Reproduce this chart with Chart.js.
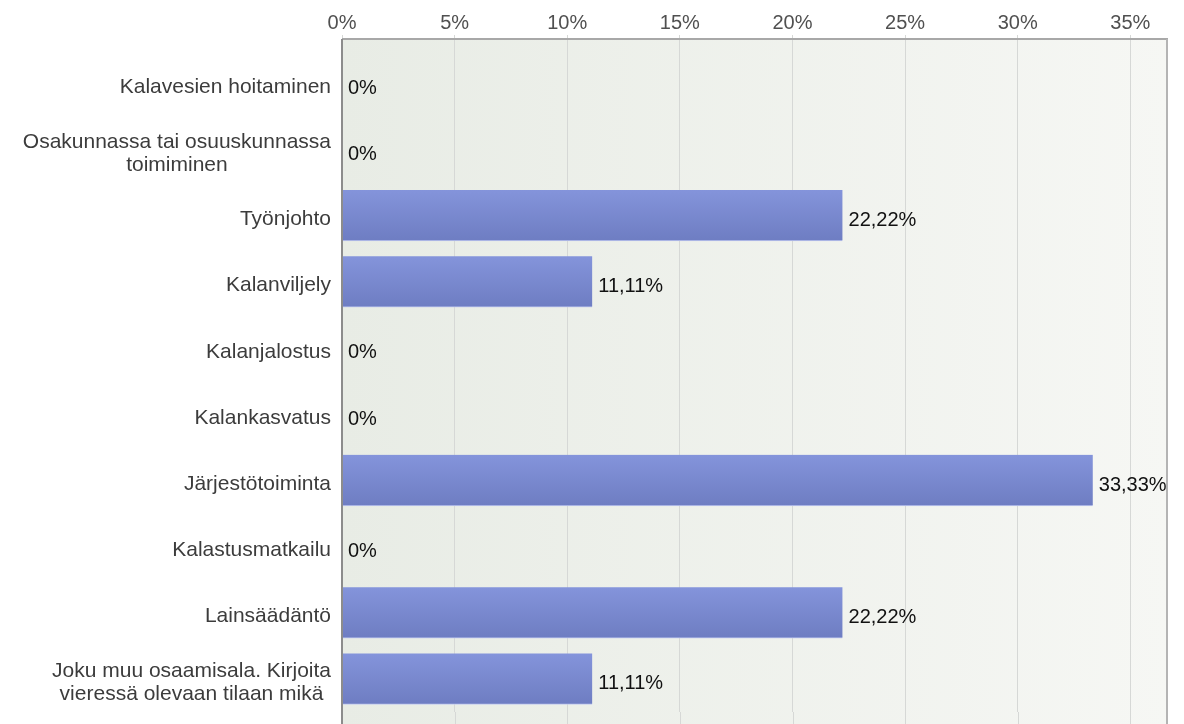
<!DOCTYPE html>
<html>
<head>
<meta charset="utf-8">
<script src="https://cdn.jsdelivr.net/npm/chart.js@4"></script>
<style>
  html, body { margin: 0; padding: 0; background: #ffffff; }
  canvas { display: block; }
</style>
</head>
<body>
<canvas id="myChart" width="1184" height="724"></canvas>
<script>
// chart data
var categories = [
  'Kalavesien hoitaminen',
  ['Osakunnassa tai osuuskunnassa', 'toimiminen'],
  'Työnjohto',
  'Kalanviljely',
  'Kalanjalostus',
  'Kalankasvatus',
  'Järjestötoiminta',
  'Kalastusmatkailu',
  'Lainsäädäntö',
  ['Joku muu osaamisala. Kirjoita', 'vieressä olevaan tilaan mikä']
];
var percentValues = [0, 0, 22.22, 11.11, 0, 0, 33.33, 0, 22.22, 11.11];
var tickSteps = [0, 5, 10, 15, 20, 25, 30, 35];
var axisMax = 36.67;

var fontFamily = "'Liberation Sans', Arial, Helvetica, sans-serif";
Chart.defaults.font.family = fontFamily;

function fmtPercent(v) {
  if (v === 0) return '0%';
  return v.toFixed(2).replace('.', ',') + '%';
}

// background + frame lines of the plot
var plotFrame = {
  id: 'plotFrame',
  beforeDraw: function (chart) {
    var c = chart.ctx, a = chart.chartArea;
    var top = a.top - 11;
    var g = c.createLinearGradient(a.left, 0, a.right, 0);
    g.addColorStop(0, '#e8ece5');
    g.addColorStop(1, '#f6f7f4');
    c.save();
    c.fillStyle = g;
    c.fillRect(a.left, top, a.right - a.left, chart.height - top);
    c.restore();
  },
  afterDatasetsDraw: function (chart) {
    var c = chart.ctx, a = chart.chartArea;
    var top = a.top - 11;
    var xs = chart.scales.x;
    c.save();
    // grid lines go on below the band area
    c.strokeStyle = '#d6d8d6';
    c.lineWidth = 1;
    tickSteps.forEach(function (v) {
      var px = Math.round(xs.getPixelForValue(v)) + 0.5;
      c.beginPath();
      c.moveTo(px, a.bottom);
      c.lineTo(px, chart.height);
      c.stroke();
    });
    c.lineWidth = 2;
    c.strokeStyle = '#a8a8a8';
    c.beginPath();
    c.moveTo(a.left, top);
    c.lineTo(a.right, top);
    c.stroke();
    c.strokeStyle = '#b4b4b4';
    c.beginPath();
    c.moveTo(a.right - 1, top);
    c.lineTo(a.right - 1, chart.height);
    c.stroke();
    c.strokeStyle = '#8c8c8c';
    c.beginPath();
    c.moveTo(a.left, top);
    c.lineTo(a.left, chart.height);
    c.stroke();
    c.restore();
  }
};

// category labels (multi-line centred) and value labels
var textLayer = {
  id: 'textLayer',
  afterDraw: function (chart) {
    var c = chart.ctx;
    var yScale = chart.scales.y;
    c.save();
    c.font = '21px ' + fontFamily;
    c.textBaseline = 'middle';
    c.fillStyle = '#3c3c3c';
    c.textAlign = 'center';
    var right = chart.chartArea.left - 11;
    categories.forEach(function (lab, i) {
      var lines = Array.isArray(lab) ? lab : [lab];
      var w = 0;
      lines.forEach(function (l) { w = Math.max(w, c.measureText(l).width); });
      var yc = yScale.getPixelForTick(i) + 4;
      lines.forEach(function (l, j) {
        c.fillText(l, right - w / 2, yc + (j - (lines.length - 1) / 2) * 23);
      });
    });
    c.font = '20px ' + fontFamily;
    c.textAlign = 'left';
    c.fillStyle = '#111111';
    var meta = chart.getDatasetMeta(0);
    meta.data.forEach(function (bar, i) {
      c.fillText(fmtPercent(percentValues[i]), bar.x + 6, bar.y + 5);
    });
    c.restore();
  }
};

var chart = new Chart(document.getElementById('myChart'), {
  type: 'bar',
  data: {
    labels: categories,
    datasets: [{
      data: percentValues,
      barThickness: 51,
      backgroundColor: function (context) {
        var ch = context.chart;
        if (!ch.chartArea || context.dataIndex === undefined) return '#7a8acf';
        var yc = ch.scales.y.getPixelForValue(context.dataIndex);
        var g = ch.ctx.createLinearGradient(0, yc - 25.5, 0, yc + 25.5);
        g.addColorStop(0, '#8494db');
        g.addColorStop(1, '#6e7dc2');
        return g;
      },
      borderColor: '#bfc8f0',
      borderWidth: { top: 0, left: 0, right: 0, bottom: 1 },
      borderSkipped: false
    }]
  },
  options: {
    indexAxis: 'y',
    responsive: false,
    animation: false,
    devicePixelRatio: 1,
    layout: { padding: { left: 0, right: 16, top: 0, bottom: 12 } },
    plugins: {
      legend: { display: false },
      tooltip: { enabled: false }
    },
    scales: {
      x: {
        position: 'top',
        min: 0,
        max: axisMax,
        afterFit: function (scale) { scale.height = 50; },
        afterBuildTicks: function (scale) {
          scale.ticks = tickSteps.map(function (v) { return { value: v }; });
        },
        border: { display: false },
        grid: {
          color: '#d6d8d6',
          lineWidth: 1,
          tickLength: 15
        },
        ticks: {
          padding: 0,
          color: '#505050',
          font: { size: 20 },
          callback: function (v) { return v + '%'; }
        }
      },
      y: {
        afterFit: function (scale) { scale.width = 342; },
        border: { display: false },
        grid: { display: false },
        ticks: { display: false }
      }
    }
  },
  plugins: [plotFrame, textLayer]
});
</script>
</body>
</html>
